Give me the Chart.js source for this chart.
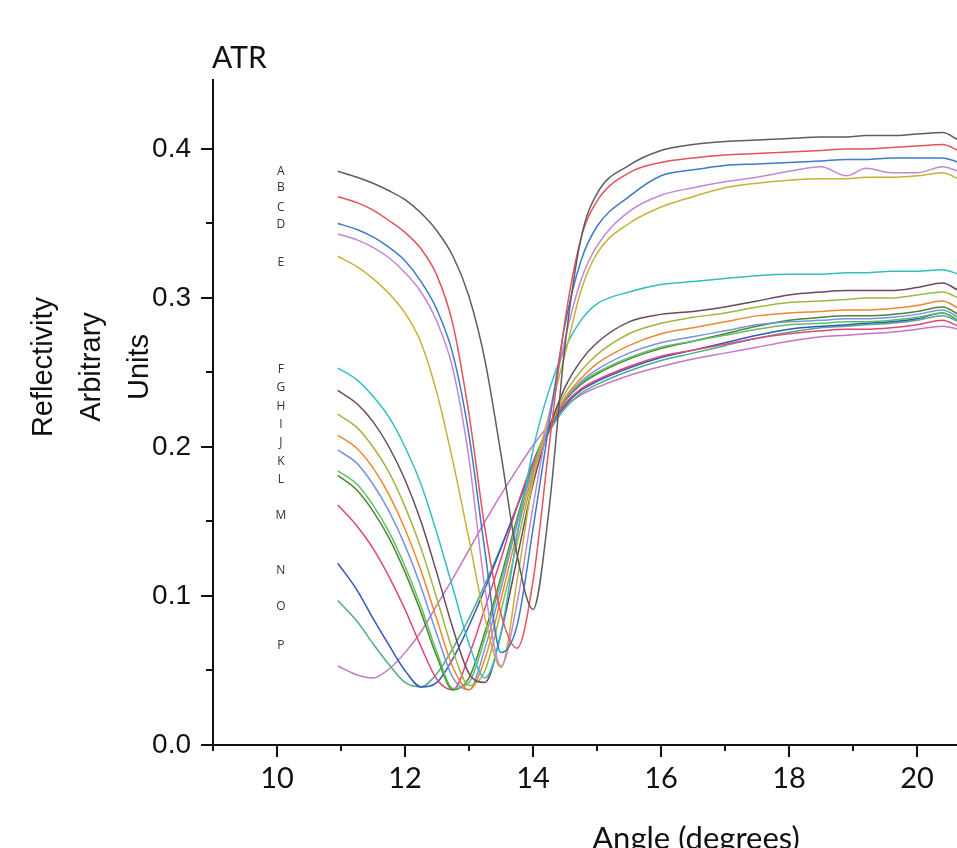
<!DOCTYPE html>
<html>
<head>
<meta charset="utf-8">
<title>ATR reflectivity</title>
<script src="https://cdn.jsdelivr.net/npm/chart.js@4.4.0/dist/chart.umd.min.js"></script>
<style>
  html, body { margin: 0; padding: 0; background: #fff; }
  #wrap { width: 957px; height: 848px; overflow: hidden; }
</style>
</head>
<body>
<div id="wrap"><canvas id="atr-chart" width="957" height="848"></canvas></div>
<script>
const angles = [10.95, 11.25, 11.5, 11.75, 12, 12.25, 12.5, 12.75, 13, 13.25, 13.5, 13.75, 14, 14.25, 14.5,
                14.75, 15, 15.5, 16, 16.5, 17, 17.5, 18, 18.5, 18.9, 19.2, 19.6, 20, 20.4, 20.65];

// reflectivity, one array per sample
const curveA = [0.385, 0.381, 0.377, 0.372, 0.366, 0.357, 0.345, 0.328, 0.301, 0.258, 0.195, 0.128, 0.091, 0.158, 0.268, 0.340, 0.370, 0.389, 0.399, 0.403, 0.405, 0.406, 0.407, 0.408, 0.408, 0.409, 0.409, 0.410, 0.411, 0.406];
const curveB = [0.368, 0.364, 0.359, 0.352, 0.344, 0.333, 0.315, 0.282, 0.222, 0.145, 0.088, 0.065, 0.110, 0.200, 0.285, 0.340, 0.365, 0.384, 0.391, 0.394, 0.396, 0.397, 0.398, 0.399, 0.400, 0.400, 0.401, 0.402, 0.403, 0.399];
const curveC = [0.350, 0.346, 0.341, 0.334, 0.325, 0.311, 0.292, 0.262, 0.208, 0.130, 0.062, 0.080, 0.145, 0.215, 0.282, 0.325, 0.348, 0.368, 0.382, 0.386, 0.389, 0.390, 0.391, 0.392, 0.393, 0.393, 0.394, 0.394, 0.394, 0.391];
const curveD = [0.343, 0.339, 0.334, 0.327, 0.317, 0.304, 0.284, 0.252, 0.192, 0.105, 0.053, 0.095, 0.160, 0.220, 0.272, 0.312, 0.335, 0.358, 0.369, 0.374, 0.378, 0.381, 0.385, 0.388, 0.382, 0.387, 0.384, 0.384, 0.388, 0.385];
const curveE = [0.328, 0.321, 0.313, 0.303, 0.290, 0.270, 0.236, 0.190, 0.138, 0.085, 0.052, 0.110, 0.178, 0.222, 0.262, 0.305, 0.330, 0.350, 0.361, 0.368, 0.374, 0.377, 0.379, 0.380, 0.380, 0.381, 0.381, 0.382, 0.384, 0.380];
const curveF = [0.253, 0.245, 0.234, 0.220, 0.200, 0.175, 0.142, 0.105, 0.068, 0.045, 0.075, 0.140, 0.198, 0.238, 0.266, 0.285, 0.296, 0.304, 0.309, 0.311, 0.313, 0.315, 0.316, 0.316, 0.317, 0.317, 0.318, 0.318, 0.319, 0.316];
const curveG = [0.238, 0.229, 0.217, 0.200, 0.178, 0.150, 0.115, 0.078, 0.048, 0.042, 0.075, 0.125, 0.175, 0.212, 0.240, 0.258, 0.270, 0.284, 0.289, 0.291, 0.294, 0.298, 0.302, 0.304, 0.305, 0.305, 0.305, 0.307, 0.310, 0.305];
const curveH = [0.222, 0.213, 0.200, 0.183, 0.160, 0.132, 0.098, 0.063, 0.040, 0.050, 0.090, 0.135, 0.180, 0.213, 0.236, 0.251, 0.262, 0.276, 0.283, 0.287, 0.290, 0.294, 0.297, 0.298, 0.299, 0.300, 0.300, 0.302, 0.304, 0.300];
const curveI = [0.208, 0.199, 0.186, 0.168, 0.145, 0.117, 0.084, 0.052, 0.037, 0.058, 0.098, 0.142, 0.183, 0.213, 0.233, 0.246, 0.256, 0.268, 0.276, 0.280, 0.284, 0.288, 0.290, 0.291, 0.292, 0.292, 0.293, 0.295, 0.298, 0.293];
const curveJ = [0.198, 0.189, 0.175, 0.157, 0.134, 0.106, 0.074, 0.045, 0.037, 0.065, 0.105, 0.148, 0.186, 0.214, 0.232, 0.244, 0.252, 0.263, 0.270, 0.274, 0.278, 0.282, 0.284, 0.285, 0.286, 0.286, 0.287, 0.289, 0.292, 0.287];
const curveK = [0.184, 0.175, 0.161, 0.143, 0.120, 0.093, 0.062, 0.038, 0.042, 0.072, 0.110, 0.150, 0.187, 0.214, 0.232, 0.243, 0.250, 0.260, 0.267, 0.271, 0.275, 0.279, 0.282, 0.283, 0.284, 0.284, 0.285, 0.287, 0.290, 0.285];
const curveL = [0.181, 0.171, 0.157, 0.139, 0.116, 0.089, 0.059, 0.037, 0.045, 0.076, 0.113, 0.152, 0.188, 0.214, 0.231, 0.242, 0.249, 0.259, 0.266, 0.271, 0.276, 0.281, 0.285, 0.287, 0.288, 0.288, 0.289, 0.291, 0.294, 0.289];
const curveM = [0.161, 0.147, 0.132, 0.113, 0.091, 0.066, 0.044, 0.037, 0.060, 0.092, 0.125, 0.160, 0.190, 0.213, 0.229, 0.239, 0.245, 0.254, 0.261, 0.265, 0.269, 0.273, 0.276, 0.278, 0.279, 0.279, 0.280, 0.282, 0.285, 0.281];
const curveN = [0.122, 0.104, 0.085, 0.067, 0.050, 0.039, 0.042, 0.058, 0.080, 0.105, 0.132, 0.160, 0.188, 0.212, 0.228, 0.238, 0.244, 0.253, 0.260, 0.265, 0.270, 0.275, 0.279, 0.281, 0.282, 0.283, 0.284, 0.286, 0.290, 0.285];
const curveO = [0.097, 0.083, 0.068, 0.054, 0.042, 0.039, 0.048, 0.065, 0.085, 0.108, 0.133, 0.160, 0.186, 0.210, 0.226, 0.236, 0.242, 0.251, 0.258, 0.263, 0.268, 0.273, 0.277, 0.280, 0.281, 0.282, 0.283, 0.285, 0.288, 0.284];
const curveP = [0.053, 0.047, 0.045, 0.051, 0.062, 0.076, 0.094, 0.112, 0.131, 0.150, 0.168, 0.185, 0.201, 0.215, 0.227, 0.235, 0.240, 0.248, 0.254, 0.259, 0.263, 0.267, 0.271, 0.274, 0.275, 0.276, 0.277, 0.279, 0.281, 0.279];

const curves = [curveA, curveB, curveC, curveD, curveE, curveF, curveG, curveH,
                curveI, curveJ, curveK, curveL, curveM, curveN, curveO, curveP];
const sampleNames = ['A', 'B', 'C', 'D', 'E', 'F', 'G', 'H', 'I', 'J', 'K', 'L', 'M', 'N', 'O', 'P'];
const sampleColors = ['#5e5e5e', '#e2535d', '#3d7bc9', '#c288d8', '#c9b136', '#33bfc2', '#6b4a5c', '#a3b443',
                      '#ef8634', '#7894e0', '#5fbf62', '#4f8433', '#e0467a', '#3456c2', '#4fae82', '#c676c6'];

// letter labels at the left of the curves (value on the y scale)
const letterLevels = [0.385, 0.374, 0.361, 0.349, 0.324, 0.252, 0.240, 0.227,
                      0.215, 0.203, 0.190, 0.178, 0.154, 0.117, 0.093, 0.067];
const letterAngle = 10.06;

const xLabel = 'Angle (degrees)';
const yLabelLines = ['Reflectivity', 'Arbitrary', 'Units'];
const cornerLabel = 'ATR';

/**
 * Tick marks (major/minor), axis texts and the A-P letters
 */
const decorPlugin = {
    id: 'decor',
    afterDraw(chart) {
        const ctx = chart.ctx;
        const xs = chart.scales.x;
        const ys = chart.scales.y;
        const area = chart.chartArea;
        ctx.save();

        ctx.strokeStyle = '#111';
        ctx.lineWidth = 2;
        ctx.beginPath();
        xs.ticks.forEach(t => {
            const px = Math.round(xs.getPixelForValue(t.value));
            const len = Math.round(t.value) % 2 === 0 ? 12 : 6;
            ctx.moveTo(px, area.bottom);
            ctx.lineTo(px, area.bottom + len);
        });
        ys.ticks.forEach(t => {
            const py = Math.round(ys.getPixelForValue(t.value));
            const major = Math.abs(t.value * 10 - Math.round(t.value * 10)) < 1e-6;
            ctx.moveTo(area.left, py);
            ctx.lineTo(area.left - (major ? 12 : 7), py);
        });
        ctx.stroke();

        // letters
        ctx.fillStyle = '#333';
        ctx.font = '12px "Open Sans"';
        ctx.textAlign = 'center';
        ctx.textBaseline = 'middle';
        const lx = xs.getPixelForValue(letterAngle);
        sampleNames.forEach((name, i) => {
            ctx.fillText(name, lx, ys.getPixelForValue(letterLevels[i]));
        });

        // corner label
        ctx.fillStyle = '#111';
        ctx.font = '30px Lato';
        ctx.textAlign = 'left';
        ctx.textBaseline = 'alphabetic';
        ctx.fillText(cornerLabel, area.left - 1, 68);

        // x title (cut by the bottom edge as in the original)
        ctx.font = '31px Lato';
        ctx.textAlign = 'center';
        ctx.fillText(xLabel, 696, 849);

        // y title, three rotated lines
        ctx.font = '29px "Liberation Sans"';
        const baselines = [52, 100, 148];
        yLabelLines.forEach((line, i) => {
            ctx.save();
            ctx.translate(baselines[i], 367);
            ctx.rotate(-Math.PI / 2);
            ctx.fillText(line, 0, 0);
            ctx.restore();
        });

        ctx.restore();
    }
};

function initChart() {
    const ctx = document.getElementById('atr-chart');

    const datasets = curves.map((vals, i) => ({
        label: sampleNames[i],
        data: angles.map((a, j) => ({ x: a, y: vals[j] })),
        borderColor: sampleColors[i],
        backgroundColor: sampleColors[i],
        borderWidth: 1.5,
        pointRadius: 0,
        fill: false,
        cubicInterpolationMode: 'monotone',
    }));

    new Chart(ctx.getContext('2d'), {
        type: 'line',
        data: { datasets: datasets },
        options: {
            responsive: false,
            animation: false,
            devicePixelRatio: 1,
            layout: { padding: { top: 80, right: 0, bottom: 0, left: 0 } },
            plugins: {
                legend: { display: false },
                tooltip: { enabled: false },
            },
            scales: {
                x: {
                    type: 'linear',
                    min: 9,
                    max: 20.625,
                    afterFit: scale => { scale.height = 103; },
                    grid: { display: false, drawTicks: false },
                    border: { display: true, color: '#111', width: 2 },
                    ticks: {
                        stepSize: 1,
                        includeBounds: false,
                        autoSkip: false,
                        maxRotation: 0,
                        padding: 16,
                        color: '#111',
                        font: { family: 'Lato', size: 29 },
                        callback: v => (Math.round(v) % 2 === 0 ? String(v) : ''),
                    },
                },
                y: {
                    type: 'linear',
                    min: 0,
                    max: 0.4463,
                    afterFit: scale => { scale.width = 213; },
                    grid: { display: false, drawTicks: false },
                    border: { display: true, color: '#111', width: 2 },
                    ticks: {
                        stepSize: 0.05,
                        includeBounds: false,
                        autoSkip: false,
                        padding: 22,
                        color: '#111',
                        font: { family: '"Liberation Sans"', size: 28 },
                        callback: v => (Math.abs(v * 10 - Math.round(v * 10)) < 1e-6 ? v.toFixed(1) : ''),
                    },
                },
            },
        },
        plugins: [decorPlugin],
    });
}

if (document.readyState === 'loading') {
    document.addEventListener('DOMContentLoaded', initChart);
} else {
    initChart();
}
</script>
</body>
</html>
